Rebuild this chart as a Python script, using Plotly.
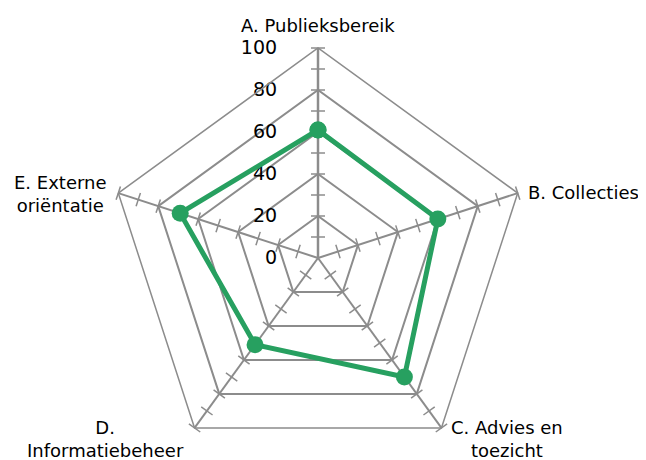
import plotly.graph_objects as go

categories = ["A. Publieksbereik", "B. Collecties", "C. Advies en toezicht",
              "D. Informatiebeheer", "E. Externe oriëntatie"]
label_texts = ["A. Publieksbereik", "B. Collecties", "C. Advies en<br>toezicht",
               "D.<br>Informatiebeheer", "E. Externe<br>oriëntatie"]
values = [61, 60, 70, 51, 69]
radial_tickvals = [0, 20, 40, 60, 80, 100]
minor_tickvals = [10, 20, 30, 40, 50, 60, 70, 80, 90, 100]

GREEN = "#27A060"
GRAY = "#8C8C8C"
FONT = "DejaVu Sans"

fig = go.Figure()

# small cross tick marks along each spoke
for k, cat in enumerate(categories):
    fig.add_trace(go.Scatterpolar(
        r=minor_tickvals, theta=[cat] * len(minor_tickvals),
        mode="markers",
        marker=dict(symbol="line-ew", size=10, angle=72 * k,
                    line=dict(color=GRAY, width=1.5)),
        hoverinfo="skip", showlegend=False,
    ))

fig.add_trace(go.Scatterpolar(
    r=values + values[:1], theta=categories + categories[:1],
    mode="lines+markers",
    line=dict(color=GREEN, width=5),
    marker=dict(color=GREEN, size=17),
    showlegend=False,
))

W, H = 646, 460
OFF = 8  # page body margin offset
cx, cy, R = 318 - OFF, 258 - OFF, 210
fig.update_layout(
    width=W, height=H,
    margin=dict(l=0, r=0, t=0, b=0),
    paper_bgcolor="white",
    font=dict(family=FONT, color="black"),
    showlegend=False,
    polar=dict(
        domain=dict(x=[(cx - R) / W, (cx + R) / W],
                    y=[1 - (cy + R) / H, 1 - (cy - R) / H]),
        gridshape="linear",
        bgcolor="white",
        angularaxis=dict(
            categoryarray=categories, categoryorder="array",
            rotation=90, direction="clockwise",
            showticklabels=False, ticks="",
            showgrid=True, gridcolor=GRAY, gridwidth=1.5,
            showline=True, linecolor=GRAY, linewidth=1.5,
        ),
        radialaxis=dict(
            range=[0, 100], tickvals=radial_tickvals, angle=90,
            side="counterclockwise", tickangle=90,
            tickfont=dict(size=19, color="black", family=FONT),
            showgrid=True, gridcolor=GRAY, gridwidth=1.5,
            showline=True, linecolor=GRAY, linewidth=2.5,
            ticks="outside", ticklen=33, tickcolor="rgba(0,0,0,0)",
            layer="below traces",
        ),
    ),
)

label_pos = [(318, 25, "center"), (526, 192, "left"), (507, 439, "center"),
             (105, 439, "center"), (60, 194, "center")]
for txt, (x, y, xa) in zip(label_texts, label_pos):
    fig.add_annotation(
        x=(x - OFF) / W, y=1 - (y - OFF) / H, xref="paper", yref="paper",
        text=txt, showarrow=False, xanchor=xa, yanchor="middle",
        align="center", font=dict(size=18, family=FONT, color="black"),
    )

fig.write_html("out.html")
